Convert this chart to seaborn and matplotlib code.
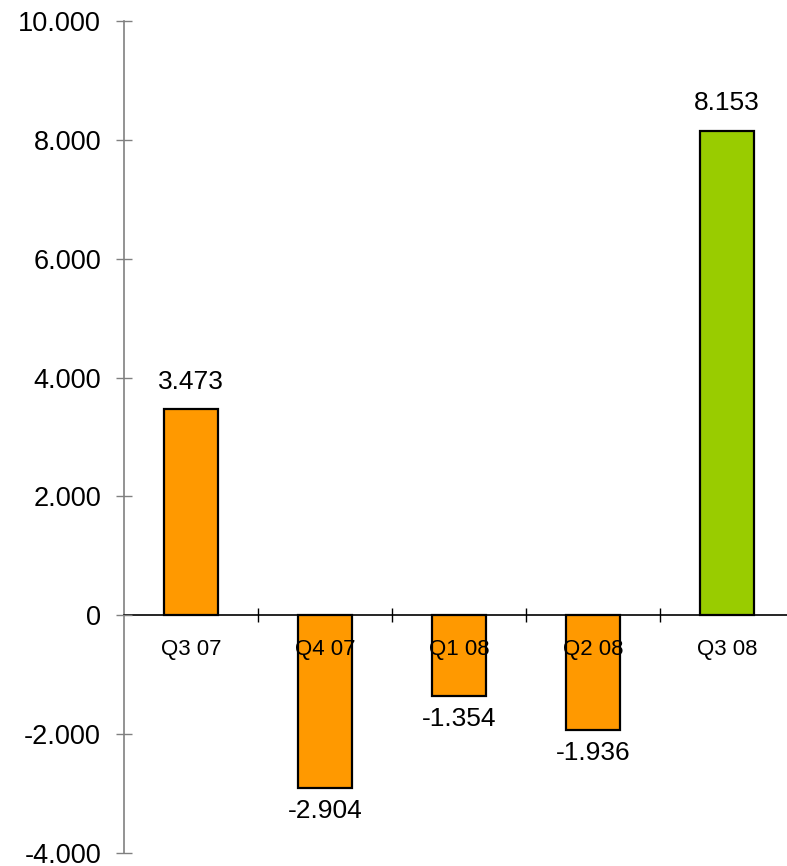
#!/usr/bin/env python3

import matplotlib

matplotlib.use("Agg")
import matplotlib.pyplot as plt
import pandas
import seaborn as sns
from matplotlib.ticker import FixedLocator, FuncFormatter

# Quarterly values
quarters = ["Q3 07", "Q4 07", "Q1 08", "Q2 08", "Q3 08"]
values = [3473, -2904, -1354, -1936, 8153]
highlight = ["past", "past", "past", "past", "current"]
yticks = [-4000, -2000, 0, 2000, 4000, 6000, 8000, 10000]


def dotted(v):
    """
    Format a number with a dot as thousands separator.
    """
    return f"{v:,.0f}".replace(",", ".")


def main():
    df = pandas.DataFrame({"quarter": quarters, "value": values, "kind": highlight})
    palette = {"past": "#FF9900", "current": "#99CC00"}

    sns.set_style("white")
    plt.rcParams["font.family"] = ["Liberation Sans", "DejaVu Sans"]
    plt.rcParams["text.color"] = "black"
    plt.rcParams["xtick.color"] = "black"
    plt.rcParams["ytick.color"] = "black"
    plt.rcParams["axes.axisbelow"] = False

    fig = plt.figure(figsize=(7.87, 8.66), dpi=100)
    ax = fig.add_axes([124 / 787, 13 / 866, 670 / 787, 832 / 866])

    sns.barplot(
        data=df,
        x="quarter",
        y="value",
        hue="kind",
        palette=palette,
        saturation=1,
        dodge=False,
        width=0.4,
        edgecolor="black",
        linewidth=1.6,
        legend=False,
        ax=ax,
    )
    ax.set_axisbelow(False)

    ax.set_xlim(-0.5, len(quarters) - 0.5)
    ax.set_ylim(-4000, 10000)
    ax.set_yticks(yticks)
    ax.yaxis.set_major_formatter(FuncFormatter(lambda v, _: dotted(v)))
    ax.set_xlabel("")
    ax.set_ylabel("")

    for side in ["top", "right"]:
        ax.spines[side].set_visible(False)
    ax.spines["left"].set_color("#808080")
    ax.spines["left"].set_linewidth(1.2)
    ax.spines["bottom"].set_position(("data", 0))
    ax.spines["bottom"].set_color("black")
    ax.spines["bottom"].set_linewidth(1.2)

    ax.tick_params(
        axis="y",
        direction="inout",
        length=12,
        width=1,
        color="#808080",
        labelcolor="black",
        pad=10.5,
        labelsize=19.5,
        left=True,
    )
    ax.tick_params(
        axis="x", which="major", length=0, pad=17, labelsize=16, labelcolor="black"
    )
    ax.xaxis.set_minor_locator(FixedLocator([0.5, 1.5, 2.5, 3.5]))
    ax.tick_params(
        axis="x",
        which="minor",
        direction="inout",
        length=10,
        width=1,
        color="black",
        bottom=True,
    )

    # Value labels above / below the bars
    for i, v in enumerate(values):
        if v >= 0:
            ax.annotate(
                dotted(v),
                (i, v),
                xytext=(0, 11),
                textcoords="offset points",
                ha="center",
                va="bottom",
                fontsize=19,
                color="black",
            )
        else:
            ax.annotate(
                dotted(v),
                (i, v),
                xytext=(0, -8),
                textcoords="offset points",
                ha="center",
                va="top",
                fontsize=19,
                color="black",
            )

    fig.savefig("out.png", dpi=100)


if __name__ == "__main__":
    main()
